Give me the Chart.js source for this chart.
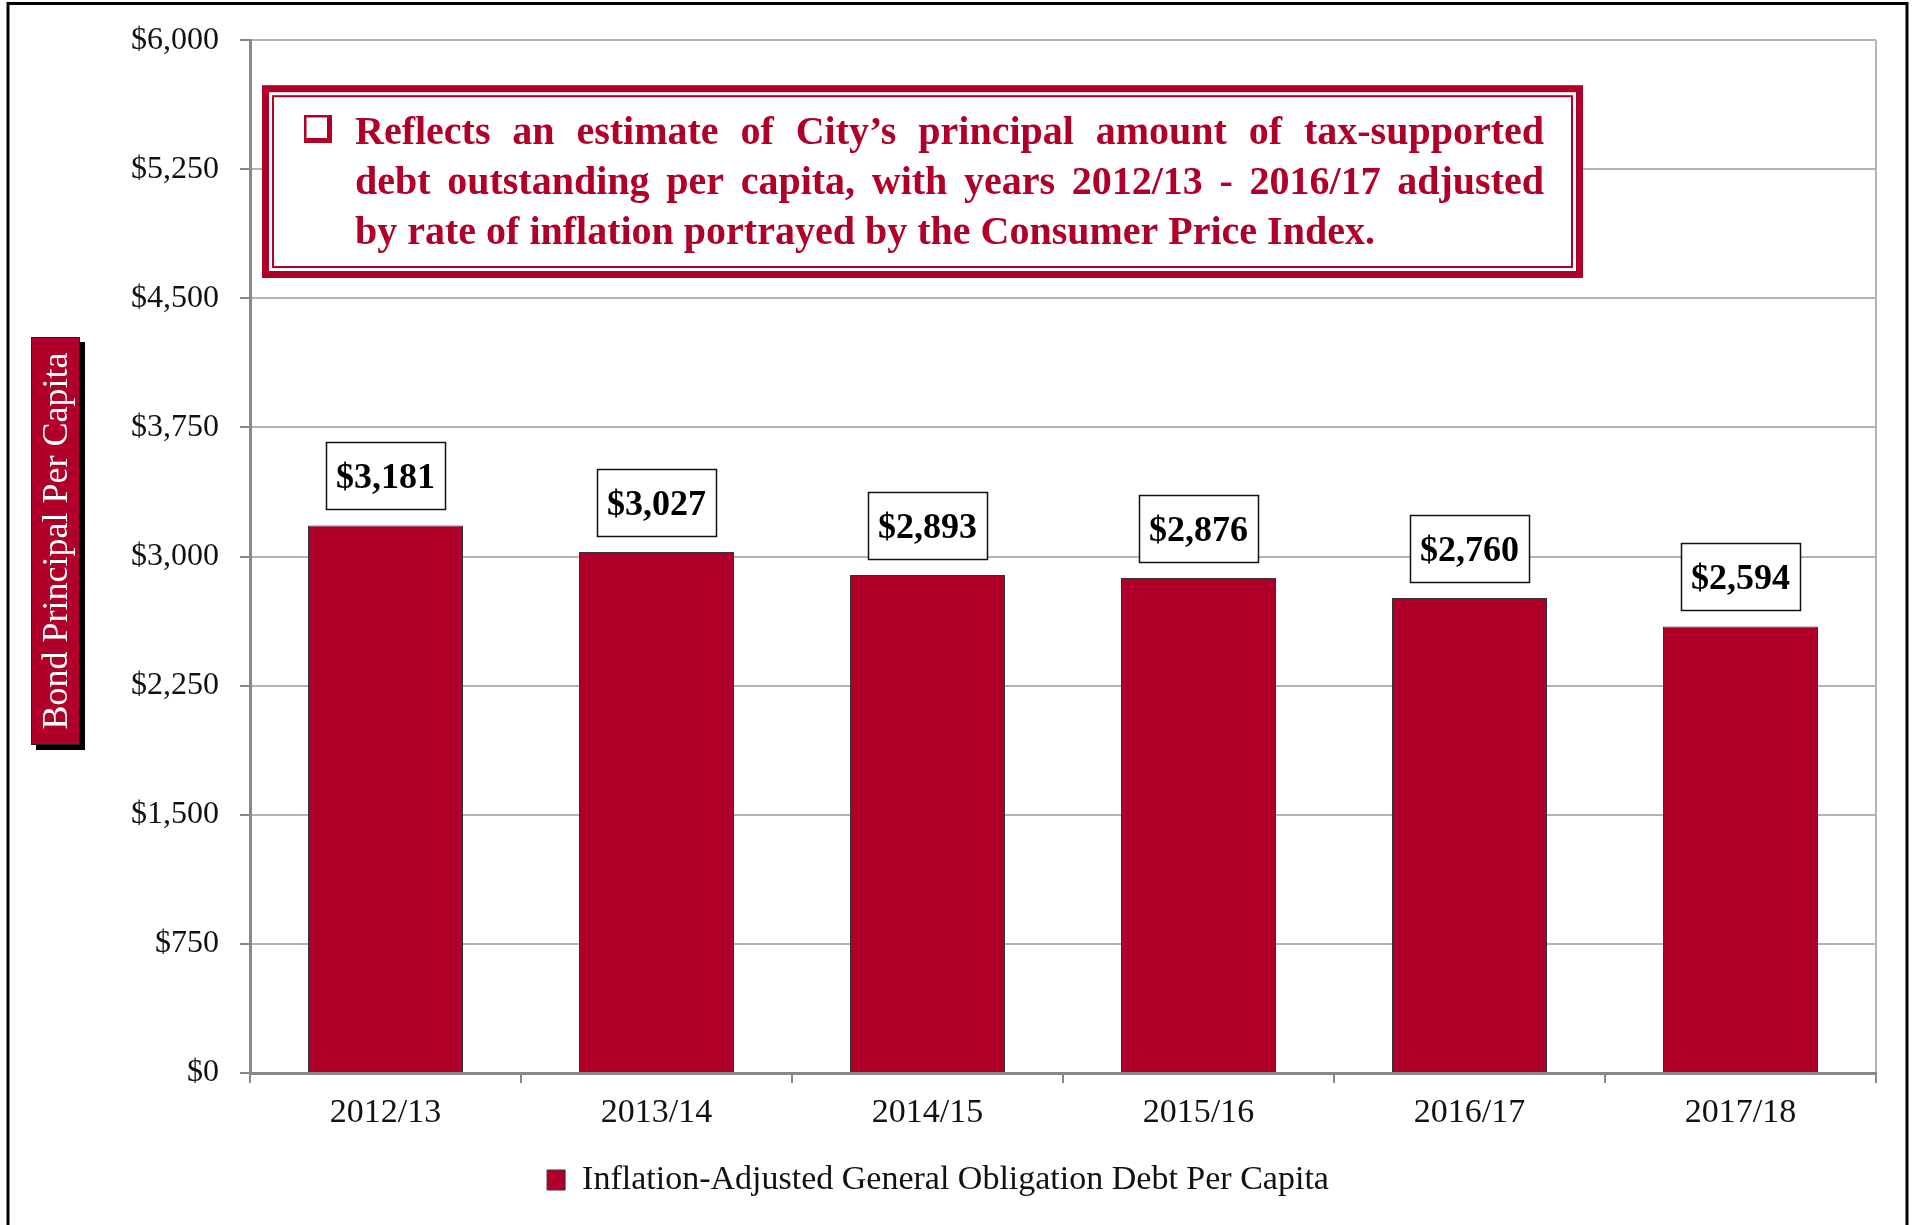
<!DOCTYPE html>
<html>
<head>
<meta charset="utf-8">
<script src="https://cdn.jsdelivr.net/npm/chart.js@4.4.1/dist/chart.umd.min.js"></script>
<style>
    html, body { margin: 0; padding: 0; background: #fff; }
    canvas { display: block; }
</style>
</head>
<body>
<canvas id="debtChart" width="1913" height="1225"></canvas>
<script>
(function () {
    "use strict";

    // Chart data
    const categories = ["2012/13", "2013/14", "2014/15", "2015/16", "2016/17", "2017/18"];
    const debtPerCapita = [3181, 3027, 2893, 2876, 2760, 2594];
    const yTicks = [0, 750, 1500, 2250, 3000, 3750, 4500, 5250, 6000];
    const seriesLabel = "Inflation-Adjusted General Obligation Debt Per Capita";
    const axisTitle = "Bond Principal Per Capita";
    const noteLines = [
        "Reflects an estimate of City\u2019s principal amount of tax-supported",
        "debt outstanding per capita, with years 2012/13 - 2016/17 adjusted",
        "by rate of inflation portrayed by the Consumer Price Index.",
    ];

    const RED = "#b00029";
    const SERIF = "'Liberation Serif', 'Times New Roman', serif";

    const money = (v) => "$" + v.toLocaleString("en-US");

    // black frame round the page (no bottom edge)
    const framePlugin = {
        id: "frame",
        beforeDraw(chart) {
            const ctx = chart.ctx;
            ctx.save();
            ctx.fillStyle = "#fff";
            ctx.fillRect(0, 0, chart.width, chart.height);
            ctx.strokeStyle = "#000";
            ctx.lineWidth = 3;
            ctx.beginPath();
            ctx.moveTo(8, chart.height);
            ctx.lineTo(8, 3.5);
            ctx.lineTo(1907, 3.5);
            ctx.lineTo(1907, chart.height);
            ctx.stroke();
            ctx.restore();
        },
    };

    // value boxes above the bars
    const valueBoxPlugin = {
        id: "valueBoxes",
        afterDatasetsDraw(chart) {
            const ctx = chart.ctx;
            const meta = chart.getDatasetMeta(0);
            ctx.save();
            ctx.font = "bold 36px " + SERIF;
            ctx.textAlign = "center";
            ctx.textBaseline = "alphabetic";
            meta.data.forEach((bar, i) => {
                const text = money(debtPerCapita[i]);
                const w = ctx.measureText(text).width + 20;
                const h = 67;
                const bottom = bar.y - 16;
                const left = Math.round(bar.x - w / 2) + 0.5;
                const top = Math.round(bottom - h) + 0.5;
                ctx.fillStyle = "#fff";
                ctx.fillRect(left, top, w, h);
                ctx.strokeStyle = "#111";
                ctx.lineWidth = 1.5;
                ctx.strokeRect(left, top, w, h);
                ctx.fillStyle = "#000";
                ctx.fillText(text, bar.x, top + h / 2 + 12);
            });
            ctx.restore();
        },
    };

    // note box and rotated axis title
    const decorPlugin = {
        id: "decor",
        afterDraw(chart) {
            const ctx = chart.ctx;
            const area = chart.chartArea;
            ctx.save();

            // axis title box with drop shadow
            const bx = 31, by = 337, bw = 49, bh = 408;
            ctx.fillStyle = "#000";
            ctx.fillRect(bx + 5, by + 5, bw, bh);
            ctx.fillStyle = RED;
            ctx.fillRect(bx, by, bw, bh);
            ctx.strokeStyle = "#222";
            ctx.lineWidth = 1;
            ctx.strokeRect(bx + 0.5, by + 0.5, bw - 1, bh - 1);
            ctx.translate(bx + bw / 2 + 11, by + bh / 2);
            ctx.rotate(-Math.PI / 2);
            ctx.fillStyle = "#fff";
            ctx.font = "36px " + SERIF;
            ctx.textAlign = "center";
            ctx.textBaseline = "alphabetic";
            ctx.fillText(axisTitle, 0, 0);
            ctx.setTransform(1, 0, 0, 1, 0, 0);

            // note box
            const nx = area.left + 12, ny = area.top + 45;
            const nw = 1583 - nx, nh = 278 - ny;
            ctx.fillStyle = "#fff";
            ctx.fillRect(nx, ny, nw, nh);
            ctx.strokeStyle = RED;
            ctx.lineWidth = 7;
            ctx.strokeRect(nx + 3.5, ny + 3.5, nw - 7, nh - 7);
            ctx.lineWidth = 2;
            ctx.strokeRect(nx + 11, ny + 11, nw - 22, nh - 22);

            // bullet square with shadow
            ctx.fillStyle = RED;
            ctx.fillRect(304, 115, 28, 28);
            ctx.fillStyle = "#fff";
            ctx.fillRect(306.5, 117.5, 20.5, 20.5);

            // justified text
            ctx.fillStyle = RED;
            ctx.font = "bold 40px " + SERIF;
            ctx.textAlign = "left";
            const textLeft = 355, textRight = 1544;
            noteLines.forEach((line, li) => {
                const baseline = 144 + li * 50;
                const words = line.split(" ");
                const last = li === noteLines.length - 1;
                const widths = words.map((wd) => ctx.measureText(wd).width);
                const total = widths.reduce((a, b) => a + b, 0);
                const gap = last ? ctx.measureText(" ").width
                    : (textRight - textLeft - total) / (words.length - 1);
                let x = textLeft;
                words.forEach((wd, wi) => {
                    ctx.fillText(wd, x, baseline);
                    x += widths[wi] + gap;
                });
            });
            ctx.restore();
        },
    };

    const ctx = document.getElementById("debtChart").getContext("2d");

    new Chart(ctx, {
        type: "bar",
        data: {
            labels: categories,
            datasets: [
                {
                    label: seriesLabel,
                    data: debtPerCapita,
                    backgroundColor: RED,
                    borderColor: "#333",
                    borderWidth: 1,
                    borderSkipped: "bottom",
                    categoryPercentage: 1,
                    barPercentage: 0.572,
                },
            ],
        },
        options: {
            responsive: false,
            animation: false,
            devicePixelRatio: 1,
            layout: {
                padding: { left: 0, top: 38, right: 37, bottom: 18 },
            },
            plugins: {
                tooltip: { enabled: false },
                legend: {
                    position: "bottom",
                    labels: {
                        font: { family: SERIF, size: 34 },
                        color: "#111",
                        boxWidth: 18,
                        boxHeight: 20,
                        padding: 10,
                    },
                },
            },
            scales: {
                x: {
                    afterFit: (scale) => { scale.height = 80; },
                    ticks: {
                        font: { family: SERIF, size: 34 },
                        color: "#111",
                        padding: 10,
                    },
                    grid: {
                        offset: true,
                        drawOnChartArea: true,
                        color: (c) => (c.type === "tick" ? "rgba(0,0,0,0)" : "#b4b4b4"),
                        lineWidth: 2,
                        tickColor: "#888",
                        tickWidth: 2,
                        tickLength: 10,
                    },
                    border: { display: true, color: "#888", width: 3 },
                },
                y: {
                    min: 0,
                    max: 6000,
                    afterFit: (scale) => { scale.width = 250; },
                    afterBuildTicks: (scale) => {
                        scale.ticks = yTicks.map((v) => ({ value: v }));
                    },
                    ticks: {
                        font: { family: SERIF, size: 32 },
                        color: "#111",
                        padding: 21,
                        callback: (value) => money(value),
                    },
                    grid: {
                        color: "#b4b4b4",
                        lineWidth: 2,
                        tickColor: "#888",
                        tickWidth: 2,
                        tickLength: 10,
                    },
                    border: { display: true, color: "#888", width: 3 },
                },
            },
        },
        plugins: [framePlugin, valueBoxPlugin, decorPlugin],
    });
})();
</script>
</body>
</html>
